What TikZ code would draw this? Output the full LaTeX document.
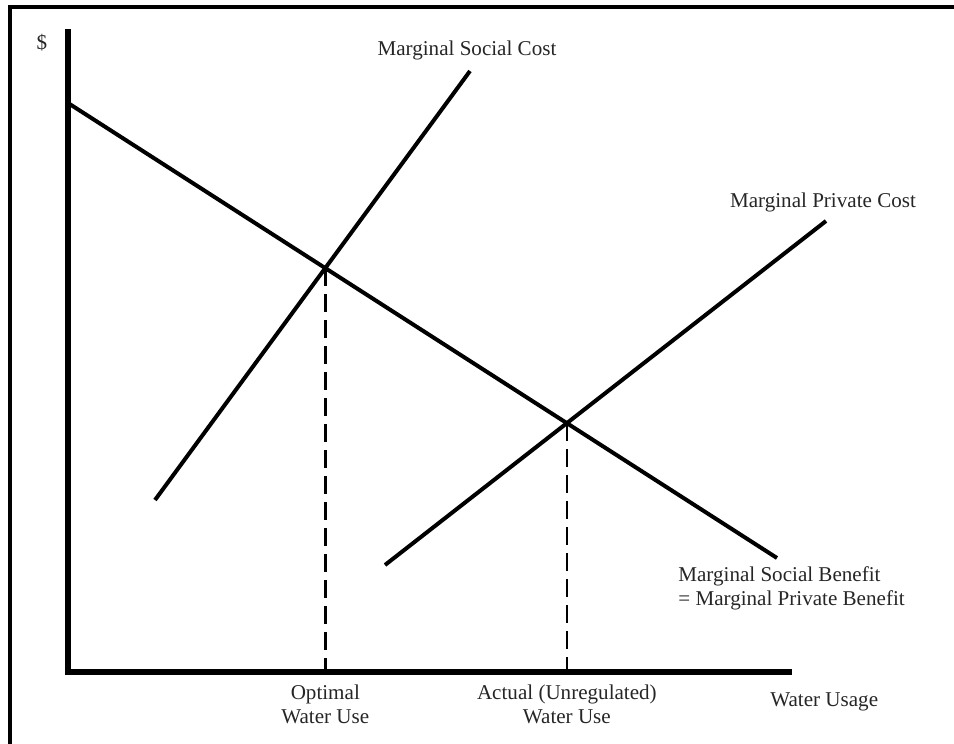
\documentclass[tikz,border=0pt]{standalone}
\usepackage{fontspec}
\setmainfont{Liberation Serif}
\usetikzlibrary{positioning}
\tikzset{%
  frame/.style={line width=0.8mm},% outer box
  axis/.style={line width=1.1mm},% price and quantity axes
  curve/.style={line width=0.8mm},% cost and benefit lines
  guide/.style={line width=0.5mm, dash pattern=on 3.6mm off 1.6mm},% dashed drop lines
  lbl/.style={font=\fontsize{12}{13.6}\selectfont, text=black!85, inner sep=0pt, align=center}% text labels
}

\begin{document}
\begin{tikzpicture}[x=0.02cm, y=-0.02cm]
\useasboundingbox (0,0) rectangle (954,744);
\draw[frame] (10,744) -- (10,7) -- (954,7);

% axes
\coordinate (top) at (68,29);
\coordinate (o) at (68,672);
\coordinate (right) at (792,672);
\draw[axis] (top) -- (o) -- (right);
\node[lbl] (dollar) at (42,43) {\$};
\node[lbl, anchor=west] (usage) at (770,702) {Water Usage};

% benefit and cost lines
\coordinate (msb1) at (68,103);
\coordinate (msb2) at (777,558);
\coordinate (msc1) at (155,500);
\coordinate (msc2) at (470,71);
\coordinate (mpc1) at (385,565);
\coordinate (mpc2) at (826,221);
\draw[curve] (msb1) -- (msb2);
\draw[curve] (msc1) -- (msc2);
\draw[curve] (mpc1) -- (mpc2);

% optimum and unregulated use
\coordinate (opt) at (intersection of msb1--msb2 and msc1--msc2);
\coordinate (act) at (intersection of msb1--msb2 and mpc1--mpc2);
\coordinate (optfoot) at (opt |- o);
\coordinate (actfoot) at (act |- o);
\draw[guide] (opt) -- (optfoot);
\draw[guide] (act) -- (actfoot);

\node[lbl] (msclbl) at (467,50) {Marginal Social Cost};
\node[lbl] (mpclbl) at (823,202) {Marginal Private Cost};
\node[lbl, align=left, anchor=west] (msblbl) at (678,588) {Marginal Social Benefit\\= Marginal Private Benefit};
\node[lbl, below = 0.26cm of optfoot] (optlbl) {Optimal\\Water Use};
\node[lbl, below = 0.26cm of actfoot] (actlbl) {Actual (Unregulated)\\Water Use};
\end{tikzpicture}
\end{document}
